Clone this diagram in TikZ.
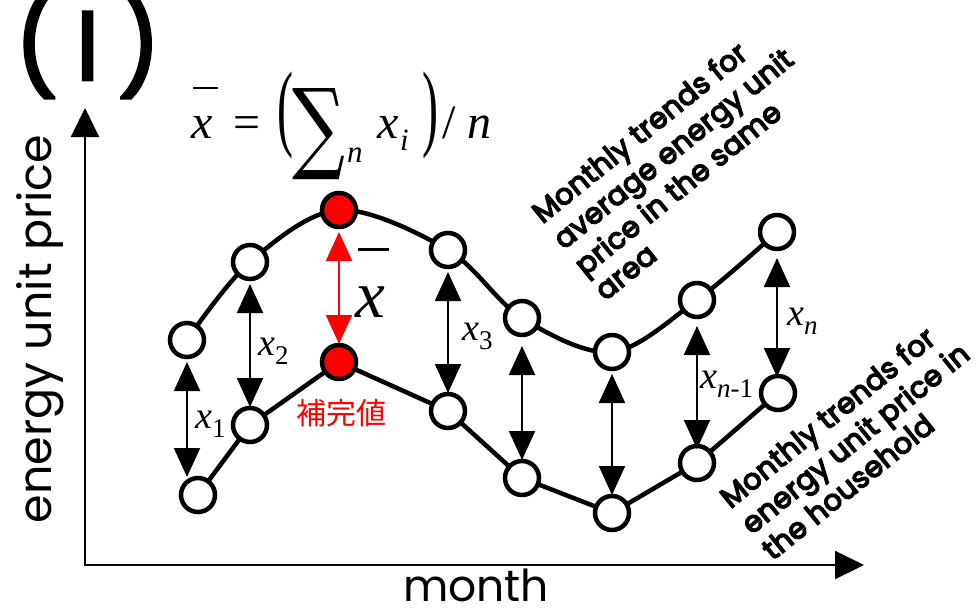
\documentclass[tikz,border=0pt]{standalone}
\usepackage{fontspec}
\setmainfont{Poppins}
\newfontfamily\tms{Liberation Serif}
\newfontfamily\dvs{DejaVu Serif}
\newfontfamily\cjk{Noto Sans CJK JP}
\newfontfamily\popsb{Poppins}[FakeBold=5,LetterSpace=1]
\newfontfamily\poptitle{Poppins}[FakeBold=2.8]
\usetikzlibrary{arrows.meta}
\newcommand\fs[1]{\fontsize{#1}{#1}\selectfont}
\newcommand\xsub[1]{{\tms\itshape x}\raisebox{-0.26em}{\fs{27}\tms #1}}
\newcommand\pc[2]{\makebox[#1pt][l]{#2}}
\begin{document}
\begin{tikzpicture}[x=1pt,y=-1pt,
  pt/.style={circle,draw=black,line width=4.5pt,fill=white,minimum size=34pt,inner sep=0pt},
  redpt/.style={pt,fill=red},
  curve/.style={line width=4.5pt,line join=round},
  axis/.style={line width=2pt,{Triangle[width=28pt,length=29pt]}-{Triangle[width=28pt,length=29pt]}},
  gap/.style={line width=2pt,{Triangle[width=26pt,length=29pt]}-{Triangle[width=26pt,length=29pt]},shorten <=22pt,shorten >=18pt},
  lbl/.style={font=\fs{38}\tms,anchor=base west,inner sep=0pt},
  trend/.style={font=\fs{29}\popsb,align=left,rotate=39,anchor=north west,inner sep=2pt,fill=white,text=black},
]
\useasboundingbox (0,0) rectangle (979,613);
% axes
\coordinate (O) at (85,565);
\coordinate (Ytop) at (85,108);
\coordinate (Xend) at (864,565);
\draw[axis] (Ytop) -- (O) -- (Xend);
\node[font=\fs{46},rotate=90] (ylab) at (40,329) {energy unit price};
\node[font=\fs{44},anchor=base,inner sep=0pt] (xlab) at (476,601) {month};
\node[font=\fs{98}\poptitle,anchor=base west,inner sep=0pt] (title) at (14,80) {(\hspace{17pt}I\hspace{17pt})};
% formula
\node[anchor=base west,inner sep=0pt,font=\fs{48}\tms] (formula) at (191,138)
 {\pc{42}{\rlap{\hspace{2pt}\rule[49pt]{25pt}{2.2pt}}\itshape x}\pc{44}{=}\pc{15}{\scalebox{1}[2]{(}}\pc{55}{\raisebox{-22pt}{\resizebox{53pt}{72pt}{\dvs ∑}}}\pc{30}{\raisebox{-24pt}{\fs{31}\itshape n}}\pc{23}{\itshape x}\pc{22}{\raisebox{-12pt}{\fs{31}\itshape i}}\pc{20}{\scalebox{1}[2]{)}}\pc{25}{/}{\itshape n}};
% trend texts
\node[trend] (upper) at (525,206) {\rule{0pt}{23pt}Monthly trends for\\[3pt] average energy unit\\[3pt] price in the same\\[3pt] area};
\node[trend] (lower) at (713,491) {\rule{0pt}{23pt}Monthly trends for\\[3pt] energy unit price in\\[3pt] the household};
% points
\coordinate (u1) at (187,340); \coordinate (u2) at (250,262); \coordinate (u3) at (339,210);
\coordinate (u4) at (448,250); \coordinate (u5) at (522,318); \coordinate (u6) at (612,352);
\coordinate (u7) at (697,300); \coordinate (u8) at (777,232);
\coordinate (l1) at (198,495); \coordinate (l2) at (250,425); \coordinate (l3) at (339,362);
\coordinate (l4) at (448,411); \coordinate (l5) at (522,478); \coordinate (l6) at (612,513);
\coordinate (l7) at (697,463); \coordinate (l8) at (778,393);
\draw[curve] plot[smooth,tension=0.55] coordinates {(u1) (u2) (u3) (u4) (u5) (u6) (u7) (u8)};
\draw[curve] (l1) -- (l2) -- (l3) -- (l4) -- (l5) -- (l6) -- (l7) -- (l8);
\foreach \i in {1,2,4,5,6,7,8} {\node[pt] (U\i) at (u\i) {}; \node[pt] (L\i) at (l\i) {};}
\node[redpt] (U3) at (u3) {};
\node[redpt] (L3) at (l3) {};
% difference arrows
\draw[gap] (U1.center) -- (U1.center |- L1.center);
\draw[gap] (U2.center) -- (L2.center);
\draw[gap,red] (U3.center) -- (L3.center);
\draw[gap] (U4.center) -- (L4.center);
\draw[gap,shorten <=28pt] (U5.center) -- (L5.center);
\draw[gap] (U6.center) -- (L6.center);
\draw[gap,shorten <=26pt,shorten >=14pt] (U7.center) -- (L7.center);
\draw[gap,shorten <=26pt,shorten >=16pt] (U8.center) -- (U8.center |- L8.center);
% labels
\node[lbl] (x1) at (195,428) {\xsub{1}};
\node[lbl] (x2) at (258,355) {\xsub{2}};
\node[lbl] (x3) at (462,340) {\xsub{3}};
\node[lbl] (xn1) at (700,388) {\xsub{\itshape n\upshape -1}};
\node[lbl] (xn) at (787,325) {\xsub{\itshape n}};
\node[anchor=base west,inner sep=0pt,font=\fs{67}\tms\itshape] (xbar) at (355,317) {\rlap{\hspace{3pt}\rule[66pt]{31pt}{2.6pt}}x};
\node[font=\fs{30}\cjk,text=red] (hokan) at (341,413) {補完値};
\end{tikzpicture}
\end{document}
